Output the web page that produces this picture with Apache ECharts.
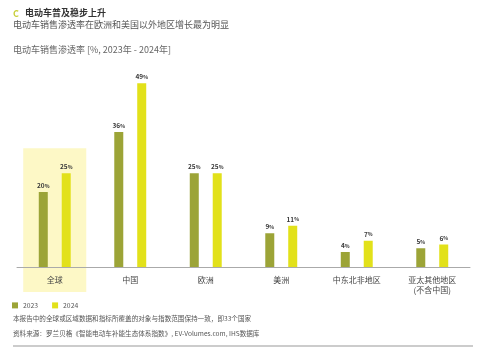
<!DOCTYPE html>
<html><head><meta charset="utf-8">
<script src="https://cdn.jsdelivr.net/npm/echarts@6/dist/echarts.min.js"></script>
<style>html,body{margin:0;padding:0;background:#fff}#c{width:480px;height:352px}</style>
</head><body><div id="c"></div>
<script>
var categories = ['全球', '中国', '欧洲', '美洲', '中东北非地区', '亚太其他地区\n(不含中国)'];
var seriesNames = ['2023', '2024'];
var values2023 = [20, 36, 25, 9, 4, 5];
var values2024 = [25, 49, 25, 11, 7, 6];
var FONT = '"Noto Sans CJK SC", "Noto Sans", sans-serif';
var C23 = '#9ca437', C24 = '#e2e11a';

var chart = echarts.init(document.getElementById('c'), null, {renderer: 'canvas'});
function lbl() {
  return {
    show: true, position: 'top', distance: 3,
    formatter: function (p) { return '{v|' + p.value + '}{p|%}'; },
    rich: {
      v: {fontSize: 6.5, fontWeight: 'bold', color: '#3a3a3a', fontFamily: FONT},
      p: {fontSize: 5, fontWeight: 'bold', color: '#3a3a3a', fontFamily: FONT}
    }
  };
}
chart.setOption({
  animation: false,
  textStyle: {fontFamily: FONT},
  grid: {left: 17, right: 10, top: 79.5, bottom: 85},
  legend: {
    left: 12, top: 300, itemWidth: 6, itemHeight: 6, itemGap: 14, padding: [2, 0, 2, 0],
    icon: 'rect', textStyle: {fontSize: 6.8, color: '#555', fontFamily: FONT},
    data: seriesNames
  },
  xAxis: {
    type: 'category', data: categories,
    axisLine: {lineStyle: {color: '#aaa', width: 1}},
    axisTick: {show: false},
    axisLabel: {color: '#444', fontSize: 8, margin: 8, lineHeight: 10, fontFamily: FONT}
  },
  yAxis: {type: 'value', min: 0, max: 50, show: false, splitLine: {show: false}},
  series: [
    {name: seriesNames[0], type: 'bar', data: values2023, barWidth: 9, barGap: '155%',
     itemStyle: {color: C23}, label: lbl(), z: 3},
    {name: seriesNames[1], type: 'bar', data: values2024, barWidth: 9,
     itemStyle: {color: C24}, label: lbl(), z: 3}
  ]
});

// decorations
var p0 = chart.convertToPixel({xAxisIndex: 0, yAxisIndex: 0}, [0, 31.7]);
var pBase = chart.convertToPixel({xAxisIndex: 0, yAxisIndex: 0}, [0, 0]);
var p1 = chart.convertToPixel({xAxisIndex: 0, yAxisIndex: 0}, [1, 0]);
var band = p1[0] - p0[0];
var boxW = band * 0.835;
chart.setOption({
  graphic: [
    {type: 'rect', z: 0, shape: {x: p0[0] - boxW / 2, y: p0[1], width: boxW, height: pBase[1] + 25 - p0[1]},
     style: {fill: '#fdf8c6'}, silent: true},
    {type: 'text', left: 13, top: 9, style: {text: 'C', fontSize: 9, fontWeight: 'bold', fill: '#c8cf3a', fontFamily: FONT}},
    {type: 'text', left: 25, top: 8, style: {text: '电动车普及稳步上升', fontSize: 9, fontWeight: 'bold', fill: '#333', fontFamily: FONT}},
    {type: 'text', left: 13, top: 20, style: {text: '电动车销售渗透率在欧洲和美国以外地区增长最为明显', fontSize: 9, fill: '#555', fontFamily: FONT}},
    {type: 'text', left: 13, top: 45, style: {text: '电动车销售渗透率 [%, 2023年 - 2024年]', fontSize: 9, fill: '#666', fontFamily: FONT}},
    {type: 'text', left: 13, top: 315, style: {text: '本报告中的全球或区域数据和指标所覆盖的对象与指数范围保持一致，即33个国家', fontSize: 6.6, fill: '#555', fontFamily: FONT}},
    {type: 'text', left: 13, top: 330, style: {text: '资料来源：罗兰贝格《智能电动车补能生态体系指数》, EV-Volumes.com, IHS数据库', fontSize: 6.6, fill: '#555', fontFamily: FONT}},
    {type: 'line', shape: {x1: 13, y1: 346, x2: 473, y2: 346}, style: {stroke: '#999', lineWidth: 1}}
  ]
});
</script></body></html>
